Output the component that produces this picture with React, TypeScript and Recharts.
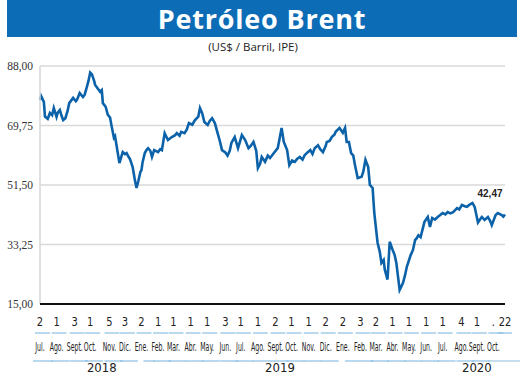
import React from 'react';
import { LineChart, Line, XAxis, YAxis, CartesianGrid } from 'recharts';

// Brent daily closes (US$ / barril)
const priceDates = [
  // 2018
  '2018-07-02', '2018-07-04', '2018-07-09', '2018-07-11', '2018-07-16', '2018-07-20', '2018-07-24', '2018-07-27',
  '2018-08-01', '2018-08-03', '2018-08-07', '2018-08-10', '2018-08-13', '2018-08-17', '2018-08-21', '2018-08-24',
  '2018-08-31', '2018-09-05', '2018-09-07', '2018-09-12', '2018-09-18', '2018-09-21', '2018-09-25', '2018-09-28',
  '2018-10-01', '2018-10-04', '2018-10-08', '2018-10-10', '2018-10-15', '2018-10-19', '2018-10-22', '2018-10-24',
  '2018-10-29', '2018-11-02', '2018-11-06', '2018-11-09', '2018-11-13', '2018-11-15', '2018-11-20', '2018-11-23',
  '2018-11-27', '2018-11-29', '2018-12-03', '2018-12-06', '2018-12-10', '2018-12-12', '2018-12-17', '2018-12-19',
  '2018-12-21', '2018-12-24', '2018-12-27', '2018-12-31',
  // 2019
  '2019-01-02', '2019-01-04', '2019-01-08', '2019-01-11', '2019-01-14', '2019-01-18', '2019-01-21', '2019-01-25',
  '2019-02-01', '2019-02-05', '2019-02-08', '2019-02-13', '2019-02-19', '2019-02-26', '2019-03-04', '2019-03-07',
  '2019-03-12', '2019-03-15', '2019-03-21', '2019-03-25', '2019-03-29', '2019-04-04', '2019-04-09', '2019-04-15',
  '2019-04-18', '2019-04-22', '2019-04-26', '2019-05-02', '2019-05-06', '2019-05-10', '2019-05-15', '2019-05-20',
  '2019-05-24', '2019-05-28', '2019-06-03', '2019-06-07', '2019-06-11', '2019-06-14', '2019-06-20', '2019-06-26',
  '2019-07-03', '2019-07-09', '2019-07-15', '2019-07-19', '2019-07-24', '2019-07-29', '2019-08-01', '2019-08-05',
  '2019-08-08', '2019-08-14', '2019-08-19', '2019-08-23', '2019-08-30', '2019-09-06', '2019-09-13', '2019-09-17',
  '2019-09-23', '2019-09-27', '2019-10-02', '2019-10-07', '2019-10-11', '2019-10-16', '2019-10-21', '2019-10-25',
  '2019-10-30', '2019-11-04', '2019-11-08', '2019-11-12', '2019-11-18', '2019-11-22', '2019-11-27', '2019-12-02',
  '2019-12-04', '2019-12-09', '2019-12-13', '2019-12-18', '2019-12-20', '2019-12-27',
  // 2020
  '2020-01-02', '2020-01-06', '2020-01-09', '2020-01-13', '2020-01-17', '2020-01-21', '2020-01-24', '2020-01-29',
  '2020-02-05', '2020-02-08', '2020-02-12', '2020-02-17', '2020-02-20', '2020-02-25', '2020-02-28', '2020-03-03',
  '2020-03-05', '2020-03-09', '2020-03-12', '2020-03-16', '2020-03-18', '2020-03-23', '2020-03-27', '2020-04-01',
  '2020-04-05', '2020-04-08', '2020-04-14', '2020-04-20', '2020-04-24', '2020-04-27', '2020-05-04', '2020-05-08',
  '2020-05-12', '2020-05-15', '2020-05-18', '2020-05-22', '2020-05-29', '2020-06-04', '2020-06-08', '2020-06-12',
  '2020-06-17', '2020-06-22', '2020-06-26', '2020-07-01', '2020-07-06', '2020-07-10', '2020-07-15', '2020-07-20',
  '2020-07-27', '2020-07-31', '2020-08-05', '2020-08-10', '2020-08-14', '2020-08-19', '2020-08-24', '2020-08-28',
  '2020-09-03', '2020-09-07', '2020-09-10', '2020-09-15', '2020-09-21', '2020-09-25', '2020-09-28', '2020-10-05',
  '2020-10-09', '2020-10-16', '2020-10-19', '2020-10-22',
];

const prices = [
  // 2018
  77.6, 78.8, 77.0, 72.5, 71.8, 73.6, 72.9, 75.1,
  72.4, 73.6, 74.5, 72.8, 71.4, 72.0, 74.2, 76.6,
  78.2, 77.2, 77.6, 79.7, 78.5, 79.2, 81.6, 83.5,
  86.0, 85.5, 83.5, 82.2, 81.0, 80.1, 80.6, 76.6,
  75.5, 73.0, 72.2, 69.4, 66.0, 66.5, 61.3, 58.2,
  60.5, 61.6, 61.0, 61.3, 60.0, 59.5, 57.0, 55.0,
  53.0, 50.6, 52.5, 55.5,
  // 2019
  56.1, 58.5, 61.3, 62.2, 62.8, 62.0, 60.1, 62.2,
  61.6, 62.5, 62.2, 67.4, 65.3, 66.2, 66.8, 67.4,
  66.6, 67.8, 67.4, 68.5, 70.5, 70.0, 71.4, 72.5,
  75.1, 73.5, 70.8, 69.9, 71.2, 72.0, 70.5, 67.4,
  65.0, 62.2, 61.5, 60.5, 62.0, 64.4, 66.2, 62.8,
  66.8, 65.3, 62.8, 63.5, 64.7, 62.0, 56.7, 58.0,
  60.1, 58.6, 60.5, 59.8, 61.3, 62.8, 69.0, 64.7,
  62.2, 57.6, 59.0, 58.6, 59.5, 60.1, 59.3, 60.7,
  61.5, 62.2, 61.0, 62.8, 63.7, 62.5, 61.6, 63.5,
  64.7, 65.0, 66.2, 67.0, 67.8, 69.0,
  // 2020
  67.5, 69.0, 64.7, 64.7, 61.3, 60.5, 57.6, 53.6,
  54.0, 55.5, 59.2, 57.0, 51.5, 50.6, 43.0, 36.8,
  33.8, 31.0, 27.6, 28.5, 25.6, 22.5, 34.1, 31.7,
  30.0, 27.6, 19.3, 21.4, 24.0, 26.4, 30.0, 31.5,
  34.6, 35.2, 36.1, 35.5, 40.2, 41.7, 38.6, 41.4,
  40.9, 41.7, 42.2, 42.9, 42.5, 43.2, 42.8, 43.2,
  44.4, 44.0, 45.4, 45.0, 44.8, 45.5, 46.0, 44.8,
  40.0, 41.0, 41.7, 40.8, 41.7, 40.5, 39.2, 42.3,
  42.9, 42.3, 41.8, 42.47,
];

// x axis: first quoted day of each month, month names, years
const tickDates = [
  '2018-07-02', '2018-08-01', '2018-09-03', '2018-10-01', '2018-11-05', '2018-12-03',
  '2019-01-02', '2019-02-01', '2019-03-01', '2019-04-01', '2019-05-01', '2019-06-03',
  '2019-07-01', '2019-08-01', '2019-09-02', '2019-10-01', '2019-11-01', '2019-12-02',
  '2020-01-02', '2020-02-03', '2020-03-02', '2020-04-01', '2020-05-01', '2020-06-01',
  '2020-07-01', '2020-08-04', '2020-09-01', '2020-10-01', '2020-10-22',
];
const tickDays = [
  '2', '1', '3', '1', '5', '3', '2', '1', '1', '1', '1', '3', '1', '1', '2',
  '1', '1', '2', '2', '3', '2', '1', '1', '1', '1', '4', '1', '.', '22',
];
const tickMonths = [
  'Jul.', 'Ago.', 'Sept.', 'Oct.', 'Nov.', 'Dic.', 'Ene.', 'Feb.', 'Mar.', 'Abr.', 'May.', 'Jun.',
  'Jul.', 'Ago.', 'Sept.', 'Oct.', 'Nov.', 'Dic.', 'Ene.', 'Feb.', 'Mar.', 'Abr.', 'May.', 'Jun.',
  'Jul.', 'Ago.', 'Sept.', 'Oct.', '',
];
const yearLabels = ['2018', '2019', '2020'];
const yearLabelDates = ['2018-10-22', '2019-09-10', '2020-09-01'];

const yTicks = [15, 33.25, 51.5, 69.75, 88];

const toTime = (d: string) => Date.parse(d + 'T00:00:00Z');
const data = priceDates.map((d, i) => ({ t: toTime(d), price: prices[i] }));
const tickTimes = tickDates.map(toTime);
const yearTimes = yearLabelDates.map(toTime);
const domain = [tickTimes[0], tickTimes[tickTimes.length - 1]];

const fmt = (v: number) => v.toFixed(2).replace('.', ',');

const LINE = '#0b62a9';
const DASH = '#8cc0e4';
const narrow = '"Liberation Sans Narrow", "DejaVu Sans Condensed", Arial, sans-serif';

const MonthTick = (props: any) => {
  const { x, y, payload } = props;
  const i = tickTimes.indexOf(payload.value);
  if (i < 0) return null;
  const month = tickMonths[i];
  const last = i === tickTimes.length - 1;
  // underline for the year groups
  let u1 = x - 5;
  let u2 = x + 13;
  if (i === 0) u1 = x - 7;
  if (month === 'Ene.') u1 = x + 2;
  if (i === tickTimes.length - 2) u2 = x + 30;
  return (
    <g>
      <text
        transform={`translate(${x},${y + 22}) scale(0.85,1)`}
        textAnchor="middle"
        fontFamily={narrow}
        fontSize={13}
        fill="#222"
      >
        {tickDays[i]}
      </text>
      <line x1={last ? x - 7 : x - 5} x2={last ? x + 7 : x + 10} y1={y + 29} y2={y + 29} stroke={DASH} strokeWidth={1.2} />
      {month && (
        <text
          transform={`translate(${x},${y + 47}) scale(0.6,1)`}
          textAnchor="middle"
          fontFamily={narrow}
          fontSize={11.5}
          fill="#222"
        >
          {month}
        </text>
      )}
      {month && <line x1={u1} x2={u2} y1={y + 57} y2={y + 57} stroke={DASH} strokeWidth={1.2} />}
    </g>
  );
};

const YearTick = (props: any) => {
  const { x, y, payload } = props;
  const i = yearTimes.indexOf(payload.value);
  if (i < 0) return null;
  return (
    <text x={x} y={y + 10} textAnchor="middle" fontFamily={narrow} fontSize={13} fill="#222">
      {yearLabels[i]}
    </text>
  );
};

const LastLabel = (props: any) => {
  const { x, y, index, value } = props;
  if (index !== data.length - 1) return null;
  return (
    <text x={x - 15} y={y - 17} textAnchor="middle" fontFamily="Liberation Sans, Arial, sans-serif" fontWeight="bold" fontSize={10} fill="#222">
      {fmt(value)}
    </text>
  );
};

export default function App() {
  return (
    <div style={{ position: 'absolute', left: 0, top: 0, width: 520, height: 377, background: '#fff' }}>
      <div
        style={{
          position: 'absolute',
          left: 7,
          top: 0,
          width: 510,
          height: 37,
          background: '#0d6cb6',
          color: '#fff',
          fontFamily: '"Open Sans", sans-serif',
          fontWeight: 700,
          fontSize: 27,
          lineHeight: '37px',
          textAlign: 'center',
          letterSpacing: 0.8,
        }}
      >
        Petróleo Brent
      </div>
      <div
        style={{
          position: 'absolute',
          left: 0,
          top: 39,
          width: 506,
          textAlign: 'center',
          fontFamily: '"Open Sans", sans-serif',
          fontSize: 11.5,
          color: '#222',
        }}
      >
        (US$ / Barril, IPE)
      </div>
      <LineChart width={520} height={377} data={data} margin={{ top: 66, right: 15, bottom: 0, left: 0 }}>
        <CartesianGrid vertical={false} stroke="#d9d9d9" strokeWidth={1.5} />
        <YAxis
          type="number"
          domain={[15, 88]}
          ticks={yTicks}
          tickFormatter={fmt}
          width={40}
          tickSize={0}
          tickMargin={7}
          axisLine={{ stroke: '#d6d6d6', strokeWidth: 1.5 }}
          tickLine={false}
          tick={{ fontFamily: '"Liberation Serif", serif', fontSize: 11.5, fill: '#333' }}
        />
        <XAxis
          dataKey="t"
          type="number"
          scale="time"
          domain={domain}
          ticks={tickTimes}
          interval={0}
          height={58}
          tickSize={0}
          tickMargin={0}
          tickLine={false}
          axisLine={{ stroke: '#111', strokeWidth: 2 }}
          tick={<MonthTick />}
        />
        <XAxis
          xAxisId="year"
          dataKey="t"
          type="number"
          scale="time"
          domain={domain}
          ticks={yearTimes}
          interval={0}
          height={15}
          tickSize={0}
          tickMargin={0}
          tickLine={false}
          axisLine={false}
          tick={<YearTick />}
        />
        <Line
          type="linear"
          dataKey="price"
          stroke={LINE}
          strokeWidth={2.6}
          dot={false}
          isAnimationActive={false}
          label={<LastLabel />}
        />
      </LineChart>
    </div>
  );
}
